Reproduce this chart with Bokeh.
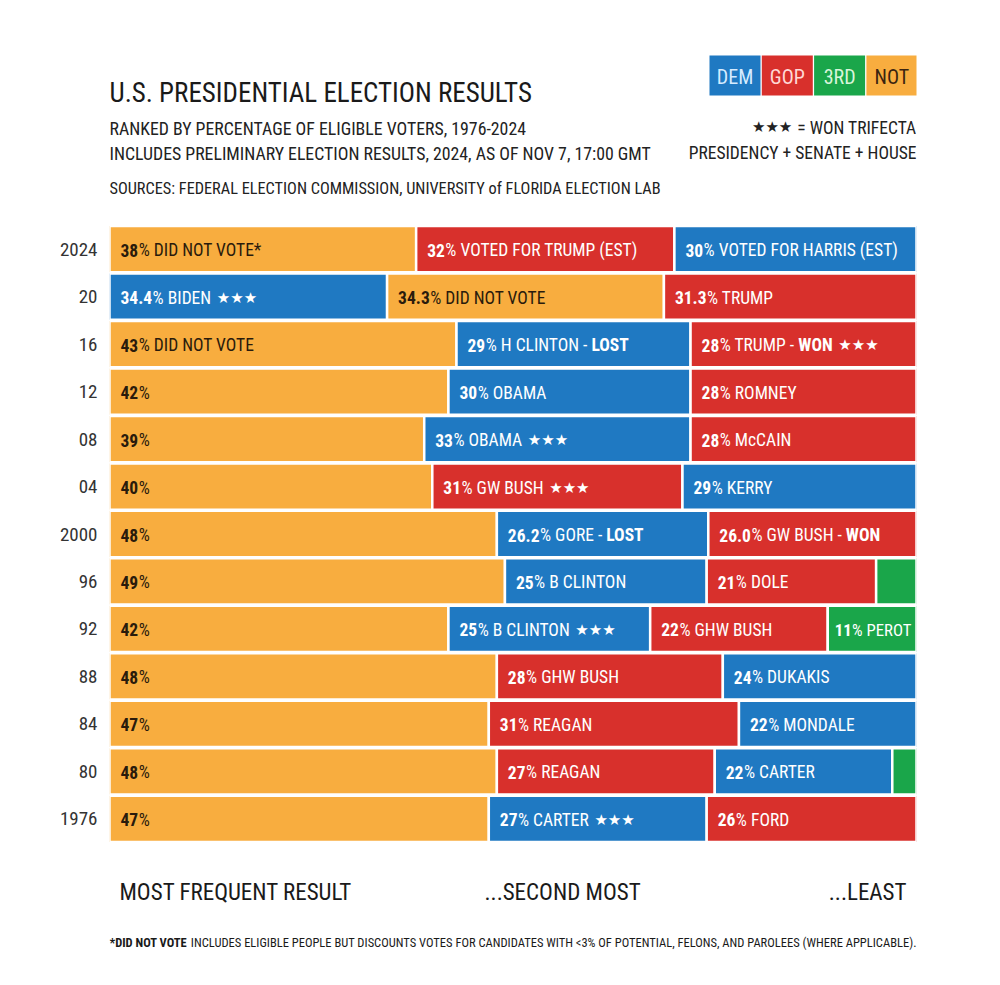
from bokeh.plotting import figure
from bokeh.models import ColumnDataSource, FactorRange, Range1d, CustomJS
from bokeh.layouts import column
from bokeh.document import Document
from bokeh.embed import file_html
from bokeh.resources import INLINE
from bokeh.core.properties import value

FONT = "Roboto Condensed, Roboto"
STAR_FONT = "DejaVu Sans"

# ---------------- data ----------------
years = ["2024", "20", "16", "12", "08", "04", "2000", "96", "92", "88", "84", "80", "1976"]

first_party = ["NOT", "DEM", "NOT", "NOT", "NOT", "NOT", "NOT", "NOT", "NOT", "NOT", "NOT", "NOT", "NOT"]
first_pct = [38, 34.4, 43, 42, 39, 40, 48, 49, 42, 48, 47, 48, 47]
first_text = ["38", "34.4", "43", "42", "39", "40", "48", "49", "42", "48", "47", "48", "47"]
first_label = ["DID NOT VOTE*", "BIDEN", "DID NOT VOTE", "", "", "", "", "", "", "", "", "", ""]
first_bold = [""] * 13
first_star = [False, True, False, False, False, False, False, False, False, False, False, False, False]

second_party = ["GOP", "NOT", "DEM", "DEM", "DEM", "GOP", "DEM", "DEM", "DEM", "GOP", "GOP", "GOP", "DEM"]
second_pct = [32, 34.3, 29, 30, 33, 31, 26.2, 25, 25, 28, 31, 27, 27]
second_text = ["32", "34.3", "29", "30", "33", "31", "26.2", "25", "25", "28", "31", "27", "27"]
second_label = ["VOTED FOR TRUMP (EST)", "DID NOT VOTE", "H CLINTON -", "OBAMA", "OBAMA", "GW BUSH",
                "GORE -", "B CLINTON", "B CLINTON", "GHW BUSH", "REAGAN", "REAGAN", "CARTER"]
second_bold = ["", "", "LOST", "", "", "", "LOST", "", "", "", "", "", ""]
second_star = [False, False, False, False, True, True, False, False, True, False, False, False, True]

third_party = ["DEM", "GOP", "GOP", "GOP", "GOP", "DEM", "GOP", "GOP", "GOP", "DEM", "DEM", "DEM", "GOP"]
third_pct = [30, 31.3, 28, 28, 28, 29, 26.0, 21, 22, 24, 22, 22, 26]
third_text = ["30", "31.3", "28", "28", "28", "29", "26.0", "21", "22", "24", "22", "22", "26"]
third_label = ["VOTED FOR HARRIS (EST)", "TRUMP", "TRUMP -", "ROMNEY", "McCAIN", "KERRY",
               "GW BUSH -", "DOLE", "GHW BUSH", "DUKAKIS", "MONDALE", "CARTER", "FORD"]
third_bold = ["", "", "WON", "", "", "", "WON", "", "", "", "", "", ""]
third_star = [False, False, True, False, False, False, False, False, False, False, False, False, False]

fourth_party = ["3RD"] * 13
fourth_pct = [0, 0, 0, 0, 0, 0, 0, 5, 11, 0, 0, 3, 0]
fourth_text = ["", "", "", "", "", "", "", "", "11", "", "", "", ""]
fourth_label = ["", "", "", "", "", "", "", "", "PEROT", "", "", "", ""]
fourth_bold = [""] * 13
fourth_star = [False] * 13

legend_parties = ["DEM", "GOP", "3RD", "NOT"]

colors = {"DEM": "#1F79C2", "GOP": "#D8302C", "3RD": "#1AA64A", "NOT": "#F8AD3F"}
text_colors = {"DEM": "#FFFFFF", "GOP": "#FFFFFF", "3RD": "#FFFFFF", "NOT": "#2A1B0C"}
legend_text_colors = {"DEM": "#D6ECFF", "GOP": "#FFD9D6", "3RD": "#D8F5DA", "NOT": "#3A2410"}

# ------------- rough text metrics (fallback; refined in the browser) -------------
REG = {" ": 278, "%": 889, "*": 389, "(": 333, ")": 333, "-": 300, ".": 278, ",": 278, ":": 278,
       "<": 584, "+": 584, "=": 584,
       "A": 667, "B": 667, "C": 722, "D": 722, "E": 667, "F": 611, "G": 778, "H": 722, "I": 278,
       "J": 500, "K": 667, "L": 556, "M": 833, "N": 722, "O": 778, "P": 667, "Q": 778, "R": 722,
       "S": 667, "T": 611, "U": 722, "V": 667, "W": 944, "X": 667, "Y": 667, "Z": 611, "c": 500}


def text_width(s, size, bold=False):
    return sum(REG.get(ch, 556) for ch in s) * (0.86 if bold else 0.79) * size / 1000.0


W = 992
HEAD_H = 225
BAR_H = 617
FOOT_H = 135
BAR_FS = 17.5
STAR_FS = 15
FL, FR = 109, 916   # frame edges in page pixels
PX_PER_PCT = (FR - FL) / 100.0


def fontstr(size, bold=False, family=FONT):
    return f"{'bold ' if bold else ''}{size}px {family}"


def deco_fig(h):
    f = figure(width=W, height=h, x_range=Range1d(FL, FR), y_range=Range1d(h, 0),
               x_axis_location=None, y_axis_location=None, toolbar_location=None,
               output_backend="svg", min_border=0, min_border_left=FL, min_border_right=W - FR,
               outline_line_color=None)
    f.grid.visible = False
    return f


def htext(fig, x, y, txt, size, color="#1A1A1A", bold=False, align="left", baseline="alphabetic",
          font=FONT, off=0.0):
    src = ColumnDataSource(dict(x=[x], y=[y], text=[txt], off=[off]))
    fig.text(x="x", y="y", text="text", x_offset="off", source=src, text_font=value(font),
             text_font_size=f"{size}px", text_color=color,
             text_font_style="bold" if bold else "normal", text_align=align, text_baseline=baseline)
    return src


# ---------------- header ----------------
head = deco_fig(HEAD_H)

htext(head, FL, 92, "U.S. PRESIDENTIAL ELECTION RESULTS", 27)
htext(head, FL, 128, "RANKED BY PERCENTAGE OF ELIGIBLE VOTERS, 1976-2024", 17.8, "#222222")
htext(head, FL, 153, "INCLUDES PRELIMINARY ELECTION RESULTS, 2024, AS OF NOV 7, 17:00 GMT", 17.8, "#222222")
htext(head, FL, 188, "SOURCES: FEDERAL ELECTION COMMISSION, UNIVERSITY of FLORIDA ELECTION LAB", 16.3, "#222222")

lx = [734.5 + 52.3 * i for i in range(len(legend_parties))]
head.rect(x=lx, y=75, width=51, height=40, fill_color=[colors[p] for p in legend_parties], line_color=None)
head.text(x=lx, y=76, text=legend_parties, text_font=value(FONT), text_font_size="20px",
          text_color=[legend_text_colors[p] for p in legend_parties], text_align="center",
          text_baseline="middle")

wt = "= WON TRIFECTA"
LEG_FS = 17.5
htext(head, FR, 127, wt, LEG_FS, "#222222", align="right")
hstar_src = htext(head, FR, 126, "\u2605\u2605\u2605", 15, "#222222", align="right", font=STAR_FONT,
                  off=-(text_width(wt, LEG_FS) + 5))
htext(head, FR, 152, "PRESIDENCY + SENATE + HOUSE", LEG_FS, "#222222", align="right")

# ---------------- bars ----------------
p = figure(width=W, height=BAR_H, y_range=FactorRange(factors=years[::-1], range_padding=0),
           x_range=Range1d(0, 100), x_axis_location=None, toolbar_location=None,
           output_backend="svg", min_border=0, min_border_left=FL, min_border_right=W - FR,
           outline_line_color=None)
p.grid.visible = False
p.yaxis.axis_line_color = None
p.yaxis.major_tick_line_color = None
p.yaxis.minor_tick_line_color = None
p.yaxis.major_tick_in = 0
p.yaxis.major_tick_out = 0
p.yaxis.major_label_standoff = 12
p.yaxis.major_label_text_font = FONT
p.yaxis.major_label_text_font_size = "19px"
p.yaxis.major_label_text_color = "#333333"

ranks = [
    (first_party, first_pct, first_text, first_label, first_bold, first_star),
    (second_party, second_pct, second_text, second_label, second_bold, second_star),
    (third_party, third_pct, third_text, third_label, third_bold, third_star),
    (fourth_party, fourth_pct, fourth_text, fourth_label, fourth_bold, fourth_star),
]

bars = dict(y=[], left=[], right=[], color=[])
tsrc = [dict(x=[], y=[], text=[], off=[], color=[], fs=[]) for _ in range(3)]   # bold, regular, stars
PIECE_STYLE = [("bold ", FONT, BAR_FS), ("", FONT, BAR_FS), ("", STAR_FONT, STAR_FS)]
labels_js = []


def add_piece(k, left, yr, txt, off, tc):
    d = tsrc[k]
    d["x"].append(left); d["y"].append(yr); d["text"].append(txt); d["off"].append(off)
    d["color"].append(tc); d["fs"].append(f"{PIECE_STYLE[k][2]}px")
    return len(d["x"]) - 1


cum = [0.0] * len(years)
for party, pct, ptxt, lab, bsuf, star in ranks:
    for i, yr in enumerate(years):
        if pct[i] <= 0:
            continue
        left = cum[i]
        right = left + pct[i]
        cum[i] = right
        bars["y"].append(yr)
        bars["left"].append(left)
        bars["right"].append(right)
        bars["color"].append(colors[party[i]])
        if not ptxt[i]:
            continue
        tc = text_colors[party[i]]
        pieces = []
        off = 11.0
        j = add_piece(0, left, yr, ptxt[i], off, tc)
        pieces.append([0, j, ptxt[i], 0.0, 0.5])
        off += text_width(ptxt[i], BAR_FS, True) + 0.5
        rest = "%" + ((" " + lab[i]) if lab[i] else "")
        j = add_piece(1, left, yr, rest, off, tc)
        nxt_gap = 1.0 if bsuf[i] else (1.4 if star[i] else 0.0)
        pieces.append([1, j, rest, nxt_gap, 0.0])
        off += text_width(rest, BAR_FS) + 4.5 * nxt_gap
        if bsuf[i]:
            j = add_piece(0, left, yr, bsuf[i], off, tc)
            g = 1.4 if star[i] else 0.0
            pieces.append([0, j, bsuf[i], g, 0.0])
            off += text_width(bsuf[i], BAR_FS, True) + 4.5 * g
        if star[i]:
            j = add_piece(2, left, yr, "\u2605\u2605\u2605", off, tc)
            pieces.append([2, j, "\u2605\u2605\u2605", 0.0, 0.0])
        labels_js.append([pct[i] * PX_PER_PCT, pieces])

p.hbar(y="y", left="left", right="right", height=0.975, fill_color="color",
       line_color="white", line_width=2.5, source=ColumnDataSource(bars))

srcs = []
for k, (bold, font, fs) in enumerate(PIECE_STYLE):
    s = ColumnDataSource(tsrc[k])
    srcs.append(s)
    p.text(x="x", y="y", text="text", x_offset="off", text_color="color", source=s,
           text_font=value(font), text_font_size="fs", text_font_style="bold" if bold else "normal",
           text_baseline="middle", text_align="left", y_offset=1)

# ---------------- footer ----------------
foot = deco_fig(FOOT_H)

htext(foot, 119, 50, "MOST FREQUENT RESULT", 23)
htext(foot, 484, 50, "...SECOND MOST", 23)
htext(foot, 906, 50, "...LEAST", 23, align="right")

fn_bold = "*DID NOT VOTE"
fn_rest = "INCLUDES ELIGIBLE PEOPLE BUT DISCOUNTS VOTES FOR CANDIDATES WITH <3% OF POTENTIAL, FELONS, AND PAROLEES (WHERE APPLICABLE)."
FN_FS = 12.5
htext(foot, FL, 100, fn_bold, FN_FS, bold=True)
fn_src = htext(foot, FL, 100, fn_rest, FN_FS, off=text_width(fn_bold + " ", FN_FS, True))

# ------------- refine text offsets with the browser's own font metrics -------------
refine = CustomJS(args=dict(srcs=srcs, labels=labels_js, styles=[list(s) for s in PIECE_STYLE],
                            hstar=hstar_src, wt=wt, wt_font=fontstr(LEG_FS),
                            fn=fn_src, fn_bold=fn_bold, fnb_font=fontstr(FN_FS, True),
                            fnr_font=fontstr(FN_FS)), code="""
const ctx = document.createElement("canvas").getContext("2d");
const mw = (t, f) => { ctx.font = f; return ctx.measureText(t).width; };
const fstr = (k, sc) => styles[k][0] + (styles[k][2] * sc) + "px " + styles[k][1];
const offs = srcs.map(s => Array.from(s.data.off));
const sizes = srcs.map(s => Array.from(s.data.fs));
const layout = (pcs, start, sc, apply) => {
  const sp = mw(" ", fstr(1, sc));
  let off = start;
  for (const pc of pcs) {
    const [k, j, txt, gap, extra] = pc;
    if (apply) { offs[k][j] = off; sizes[k][j] = (styles[k][2] * sc) + "px"; }
    off += mw(txt, fstr(k, sc)) + gap * sp + extra * sc;
  }
  return off;
};
for (const [seg, pcs] of labels) {
  let start = 11.0, sc = 1.0;
  const end = layout(pcs, 0, 1.0, false);
  if (start + end > seg - 5) {
    start = 7.0;
    if (start + end > seg - 5) sc = (seg - 5 - start) / end;
  }
  layout(pcs, start, sc, true);
}
srcs.forEach((s, k) => { s.data = Object.assign({}, s.data, {off: offs[k], fs: sizes[k]}); });
hstar.data = Object.assign({}, hstar.data, {off: [-(mw(wt, wt_font) + mw(" ", wt_font) + 1)]});
fn.data = Object.assign({}, fn.data, {off: [mw(fn_bold, fnb_font) + mw(" ", fnr_font) + 1]});
""")

layout = column(head, p, foot, spacing=0)
doc = Document()
doc.add_root(layout)
doc.js_on_event("document_ready", refine)
open("out.html", "w").write(file_html(doc, INLINE))
